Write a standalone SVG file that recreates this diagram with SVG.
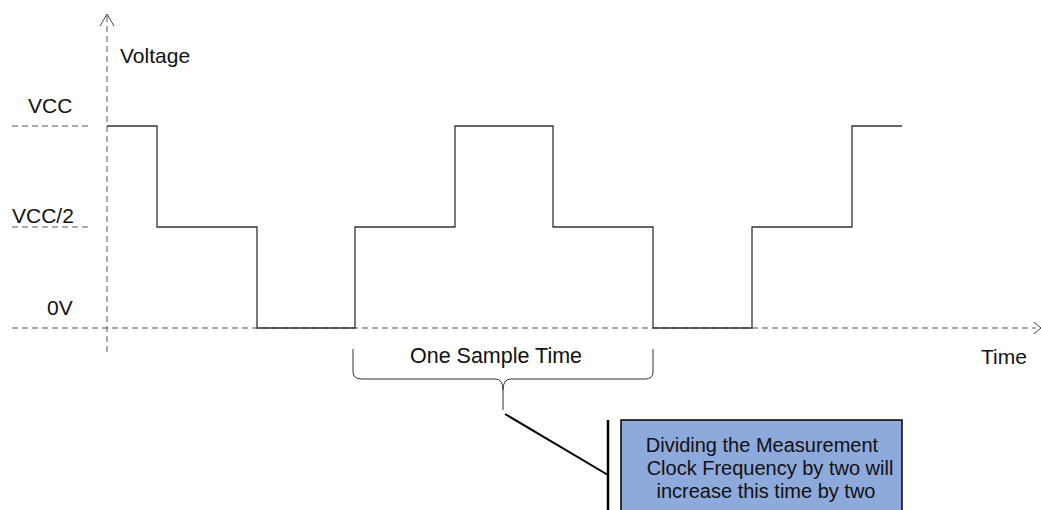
<svg xmlns="http://www.w3.org/2000/svg" width="1041" height="510" viewBox="0 0 1041 510">
<style>
text{font-family:"Liberation Sans",Arial,sans-serif;font-size:21px;fill:#111}
.box text{font-size:20px}
.dash{stroke:#555;stroke-width:1;stroke-dasharray:6,4;fill:none}
.wave{stroke:#333;stroke-width:1.3;fill:none}
</style>
<rect width="1041" height="510" fill="#fff"/>
<g id="axes">
<line class="dash" x1="107" y1="16" x2="107" y2="352"/>
<path d="M100,26 L107,14 L114,26" fill="none" stroke="#444" stroke-width="1"/>
<line class="dash" x1="12" y1="328" x2="1036" y2="328"/>
<path d="M1034,322 L1041,328 L1034,334" fill="none" stroke="#444" stroke-width="1"/>
<line class="dash" x1="12" y1="126" x2="92" y2="126"/>
<line class="dash" x1="12" y1="227" x2="92" y2="227"/>
</g>
<g id="labels">
<text x="120" y="63">Voltage</text>
<text x="28" y="113">VCC</text>
<text x="12" y="223">VCC/2</text>
<text x="47" y="315">0V</text>
<text x="981" y="364">Time</text>
</g>
<g id="waveform">
<path class="wave" d="M107,126 H157 V227 H257 V328 H355 V227 H455 V126 H553 V227 H653 V328 H752 V227 H852 V126 H902"/>
</g>
<g id="brace">
<path d="M353,349 V372 Q353,379 362,379 H495 Q503,379 503,390 V410 M503,390 Q503,379 511,379 H645 Q653,379 653,372 V349" fill="none" stroke="#333" stroke-width="1"/>
<text x="496" y="363" text-anchor="middle" style="font-size:21.5px">One Sample Time</text>
</g>
<g id="connectors">
<line x1="505" y1="414" x2="608" y2="475" stroke="#000" stroke-width="2"/>
<line x1="608" y1="420" x2="608" y2="510" stroke="#000" stroke-width="2.5"/>
</g>
<g id="note" class="box">
<rect x="621" y="420" width="281" height="100" fill="#8EA9DB" stroke="#000" stroke-width="1.5"/>
<text x="762" y="452" text-anchor="middle">Dividing the Measurement</text>
<text x="770" y="475" text-anchor="middle">Clock Frequency by two will</text>
<text x="766" y="498" text-anchor="middle">increase this time by two</text>
</g>
</svg>
